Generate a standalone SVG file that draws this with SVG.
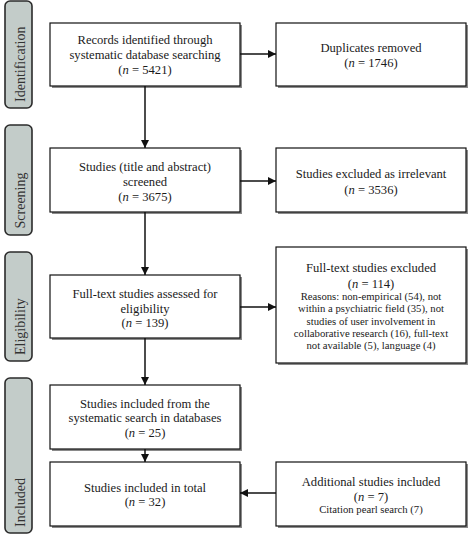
<svg xmlns="http://www.w3.org/2000/svg" width="474" height="548" viewBox="0 0 474 548">
<style>
.bar{fill:#c3ccc9;stroke:#2b2b2b;stroke-width:1.6}
.box{fill:#fff;stroke:#111;stroke-width:1.2}
.sh{fill:#8a8a8a}
.t{font-family:"Liberation Serif","Times New Roman",serif;font-size:12.6px;fill:#1a1a1a;text-anchor:middle}
.s{font-size:10.7px}
.lab{font-family:"Liberation Serif","Times New Roman",serif;font-size:14px;fill:#333;text-anchor:start}
.c{stroke:#111;stroke-width:1.5;fill:none;marker-end:url(#ah)}
</style>
<defs>
<marker id="ah" viewBox="0 0 10 10" refX="10" refY="5" markerWidth="8" markerHeight="8" markerUnits="userSpaceOnUse" orient="auto">
<path d="M0,0 L10,5 L0,10 z" fill="#111"/>
</marker>
</defs>
<rect width="474" height="548" fill="#fff"/>

<g id="stage-identification">
<rect class="bar" x="5" y="1" width="27" height="107" rx="5"/>
<text class="lab" transform="translate(24.5,102) rotate(-90)">Identification</text>
</g>
<g id="stage-screening">
<rect class="bar" x="5" y="125" width="27" height="110" rx="5"/>
<text class="lab" transform="translate(24.5,228.5) rotate(-90)">Screening</text>
</g>
<g id="stage-eligibility">
<rect class="bar" x="5" y="252" width="27" height="109" rx="5"/>
<text class="lab" transform="translate(24.5,355) rotate(-90)">Eligibility</text>
</g>
<g id="stage-included">
<rect class="bar" x="5" y="378" width="27" height="155" rx="5"/>
<text class="lab" transform="translate(24.5,527) rotate(-90)">Included</text>
</g>

<g id="records">
<rect class="sh" x="52" y="25" width="190" height="63"/>
<rect class="box" x="50" y="23" width="190" height="63"/>
<text class="t" x="145" y="44">Records identified through</text>
<text class="t" x="145" y="59">systematic database searching</text>
<text class="t" x="145" y="74">(<tspan font-style="italic">n</tspan> = 5421)</text>
</g>
<g id="duplicates">
<rect class="sh" x="278" y="25" width="190" height="63"/>
<rect class="box" x="276" y="23" width="190" height="63"/>
<text class="t" x="371" y="52">Duplicates removed</text>
<text class="t" x="371" y="67">(<tspan font-style="italic">n</tspan> = 1746)</text>
</g>
<g id="screened">
<rect class="sh" x="52" y="150" width="190" height="64"/>
<rect class="box" x="50" y="148" width="190" height="64"/>
<text class="t" x="145" y="171">Studies (title and abstract)</text>
<text class="t" x="145" y="186">screened</text>
<text class="t" x="145" y="201">(<tspan font-style="italic">n</tspan> = 3675)</text>
</g>
<g id="irrelevant">
<rect class="sh" x="278" y="150" width="190" height="64"/>
<rect class="box" x="276" y="148" width="190" height="64"/>
<text class="t" x="371" y="178">Studies excluded as irrelevant</text>
<text class="t" x="371" y="194">(<tspan font-style="italic">n</tspan> = 3536)</text>
</g>
<g id="fulltext">
<rect class="sh" x="52" y="277" width="190" height="63"/>
<rect class="box" x="50" y="275" width="190" height="63"/>
<text class="t" x="145" y="298">Full-text studies assessed for</text>
<text class="t" x="145" y="313">eligibility</text>
<text class="t" x="145" y="327">(<tspan font-style="italic">n</tspan> = 139)</text>
</g>
<g id="fulltext-excluded">
<rect class="sh" x="278" y="249" width="190" height="116"/>
<rect class="box" x="276" y="247" width="190" height="116"/>
<text class="t" x="371" y="272">Full-text studies excluded</text>
<text class="t" x="371" y="288">(<tspan font-style="italic">n</tspan> = 114)</text>
<text class="t s" x="371" y="300">Reasons: non-empirical (54), not</text>
<text class="t s" x="371" y="312">within a psychiatric field (35), not</text>
<text class="t s" x="371" y="325">studies of user involvement in</text>
<text class="t s" x="371" y="337">collaborative research (16), full-text</text>
<text class="t s" x="371" y="349">not available (5), language (4)</text>
</g>
<g id="included-search">
<rect class="sh" x="52" y="387" width="190" height="64"/>
<rect class="box" x="50" y="385" width="190" height="64"/>
<text class="t" x="145" y="408">Studies included from the</text>
<text class="t" x="145" y="422">systematic search in databases</text>
<text class="t" x="145" y="437">(<tspan font-style="italic">n</tspan> = 25)</text>
</g>
<g id="included-total">
<rect class="sh" x="52" y="464" width="190" height="64"/>
<rect class="box" x="50" y="462" width="190" height="64"/>
<text class="t" x="145" y="492">Studies included in total</text>
<text class="t" x="145" y="506">(<tspan font-style="italic">n</tspan> = 32)</text>
</g>
<g id="additional">
<rect class="sh" x="278" y="464" width="190" height="64"/>
<rect class="box" x="276" y="462" width="190" height="64"/>
<text class="t" x="371" y="486">Additional studies included</text>
<text class="t" x="371" y="501">(<tspan font-style="italic">n</tspan> = 7)</text>
<text class="t s" x="371" y="513">Citation pearl search (7)</text>
</g>

<g id="connectors">
<line class="c" x1="240" y1="54" x2="276" y2="54"/>
<line class="c" x1="145" y1="86" x2="145" y2="148"/>
<line class="c" x1="240" y1="181" x2="276" y2="181"/>
<line class="c" x1="145" y1="212" x2="145" y2="275"/>
<line class="c" x1="240" y1="307" x2="276" y2="307"/>
<line class="c" x1="145" y1="338" x2="145" y2="385"/>
<line class="c" x1="145" y1="449" x2="145" y2="462"/>
<line class="c" x1="276" y1="493" x2="240" y2="493"/>
</g>
</svg>
